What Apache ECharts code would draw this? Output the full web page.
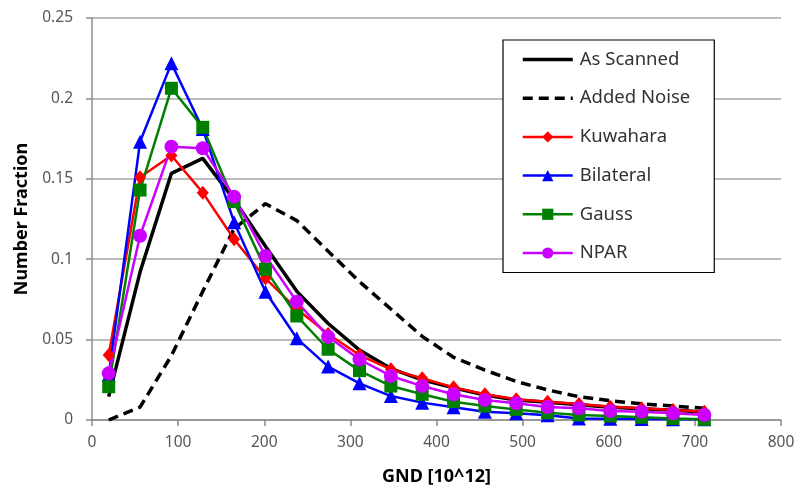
<!DOCTYPE html>
<html>
<head>
<meta charset="utf-8">
<script src="https://cdn.jsdelivr.net/npm/echarts@6/dist/echarts.min.js"></script>
<style>
  html, body { margin: 0; padding: 0; background: #fff; }
  #chart { width: 799px; height: 494px; }
</style>
</head>
<body>
<div id="chart"></div>
<script>
// Bin centres (GND, 10^12)
var gnd = [19.4, 55.8, 92.2, 128.6, 165.0, 201.4, 237.8, 274.2, 310.6, 347.0,
           383.4, 419.8, 456.2, 492.6, 529.0, 565.4, 601.8, 638.2, 674.6, 711.0];

var asScanned = [0.0145, 0.092, 0.1534, 0.1627, 0.137, 0.108, 0.080, 0.060, 0.0435, 0.032,
                 0.025, 0.020, 0.0155, 0.0125, 0.011, 0.0095, 0.008, 0.007, 0.006, 0.005];
var addedNoise = [0.0, 0.008, 0.040, 0.080, 0.119, 0.1345, 0.124, 0.105, 0.086, 0.069,
                  0.052, 0.039, 0.031, 0.024, 0.0187, 0.0145, 0.012, 0.010, 0.0087, 0.0073];
var kuwahara = [0.0404, 0.151, 0.1645, 0.1414, 0.1124, 0.0881, 0.069, 0.0535, 0.0404, 0.0315,
                0.026, 0.0203, 0.016, 0.0129, 0.0114, 0.0099, 0.0083, 0.0073, 0.0062, 0.0052];
var bilateral = [0.028, 0.173, 0.2218, 0.181, 0.123, 0.0798, 0.0508, 0.0332, 0.0228, 0.0149,
                 0.0108, 0.0079, 0.0052, 0.0042, 0.003, 0.001, 0.0008, 0.0006, 0.0005, 0.0004];
var gauss = [0.0207, 0.143, 0.2063, 0.182, 0.1358, 0.0937, 0.0647, 0.044, 0.0307, 0.0211,
             0.016, 0.0114, 0.0087, 0.0066, 0.0045, 0.0031, 0.0025, 0.0017, 0.001, 0.0004];
var npar = [0.029, 0.1146, 0.170, 0.169, 0.1389, 0.102, 0.0736, 0.0518, 0.0377, 0.0274,
            0.0211, 0.016, 0.0124, 0.0104, 0.0081, 0.0073, 0.0056, 0.0052, 0.0042, 0.0031];

var seriesNames = ['As Scanned', 'Added Noise', 'Kuwahara', 'Bilateral', 'Gauss', 'NPAR'];
var xTicks = [0, 100, 200, 300, 400, 500, 600, 700, 800];
var yTicks = [0, 0.05, 0.1, 0.15, 0.2, 0.25];

function pairs(vals) {
  return vals.map(function (v, i) { return [gnd[i], v]; });
}

var chart = echarts.init(document.getElementById('chart'), null, { renderer: 'canvas' });
var font = '"Noto Sans", "Liberation Sans", sans-serif';

function lineSeries(name, vals, color, symbol, size, width, type) {
  return {
    name: name,
    type: 'line',
    data: pairs(vals),
    symbol: symbol,
    symbolSize: size,
    showSymbol: symbol !== 'none',
    smooth: false,
    clip: true,
    lineStyle: { color: color, width: width, type: type || 'solid' },
    itemStyle: { color: color },
    emphasis: { disabled: true },
    animation: false
  };
}

var legendData = seriesNames.map(function (n, i) {
  return i < 2
    ? { name: n, itemStyle: { opacity: 0 }, lineStyle: { width: 3.5 } }
    : { name: n, lineStyle: { width: 2.5 } };
});

chart.setOption({
  backgroundColor: '#ffffff',
  animation: false,
  grid: { left: 92, right: 18, top: 18, bottom: 74, containLabel: false },
  legend: {
    orient: 'vertical',
    left: 503,
    top: 40,
    padding: [10, 24, 10, 18],
    backgroundColor: '#ffffff',
    borderColor: '#000000',
    borderWidth: 1.2,
    borderRadius: 0,
    itemWidth: 50,
    itemHeight: 14,
    itemGap: 19.7,
    textStyle: { fontFamily: font, fontSize: 18.5, lineHeight: 18, color: '#333333', padding: [0, 0, 0, 2] },
    data: legendData
  },
  xAxis: {
    type: 'value',
    min: xTicks[0],
    max: xTicks[xTicks.length - 1],
    interval: 100,
    name: 'GND [10^12]',
    nameLocation: 'middle',
    nameGap: 48,
    nameTextStyle: { fontFamily: font, fontSize: 18, fontWeight: 'bold', color: '#000' },
    axisLine: { show: true, lineStyle: { color: '#8c8c8c', width: 1.5 } },
    axisTick: { show: true, inside: false, length: 6, lineStyle: { color: '#8c8c8c', width: 1.5 } },
    axisLabel: { fontFamily: font, fontSize: 15.5, color: '#555', margin: 15 },
    splitLine: { show: false }
  },
  yAxis: {
    type: 'value',
    min: yTicks[0],
    max: yTicks[yTicks.length - 1],
    interval: 0.05,
    name: 'Number Fraction',
    nameLocation: 'middle',
    nameGap: 60,
    nameTextStyle: { fontFamily: font, fontSize: 18, fontWeight: 'bold', color: '#000' },
    axisLine: { show: true, lineStyle: { color: '#8c8c8c', width: 1.5 } },
    axisTick: { show: true, inside: false, length: 6, lineStyle: { color: '#8c8c8c', width: 1.5 } },
    axisLabel: { fontFamily: font, fontSize: 15.5, color: '#555', margin: 19,
                 formatter: function (v) { return String(+v.toFixed(2)); } },
    splitLine: { show: true, lineStyle: { color: '#a6a6a6', width: 1.5 } }
  },
  series: [
    lineSeries(seriesNames[0], asScanned, '#000000', 'none', 0, 3.5),
    lineSeries(seriesNames[1], addedNoise, '#000000', 'none', 0, 3.5, [10, 6]),
    lineSeries(seriesNames[2], kuwahara, '#ff0000', 'diamond', [12, 14], 2.5),
    lineSeries(seriesNames[3], bilateral, '#0000ff', 'triangle', 14, 2.5),
    lineSeries(seriesNames[4], gauss, '#008000', 'rect', 13, 2.5),
    lineSeries(seriesNames[5], npar, '#cc00ff', 'circle', 14, 2.5)
  ]
});
</script>
</body>
</html>
